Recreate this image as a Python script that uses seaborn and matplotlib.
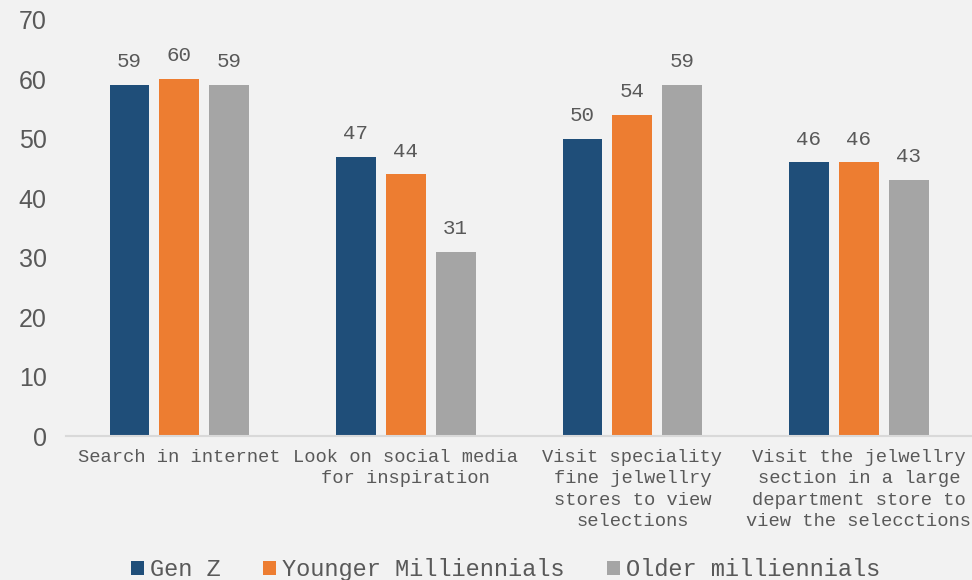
import pandas as pd
import seaborn as sns
import matplotlib.pyplot as plt

# Dados
categories = [
    "Search in internet",
    "Look on social media\nfor inspiration",
    "Visit speciality\nfine jelwellry\nstores to view\nselections",
    "Visit the jelwellry\nsection in a large\ndepartment store to\nview the selecctions",
]
groups = ["Gen Z", "Younger Milliennials", "Older milliennials"]
gen_z = [59, 47, 50, 46]
younger = [60, 44, 54, 46]
older = [59, 31, 59, 43]
colors = ["#1f4e79", "#ed7d31", "#a5a5a5"]

rows = []
for g, vals in zip(groups, [gen_z, younger, older]):
    for c, v in zip(categories, vals):
        rows.append({"category": c, "group": g, "value": v})
df = pd.DataFrame(rows)

sns.set_style("white")
bg = "#f2f2f2"
txt = "#595959"
mono = ["Liberation Mono", "DejaVu Sans Mono"]

fig = plt.figure(figsize=(9.72, 5.8), dpi=100, facecolor=bg)
ax = fig.add_axes([0.068, 0.248, 0.932, 0.718])
ax.set_facecolor(bg)

sns.barplot(data=df, x="category", y="value", hue="group", palette=colors,
            width=0.66, gap=0.2, ax=ax, saturation=1, linewidth=0)

for cont in ax.containers:
    ax.bar_label(cont, padding=10, fontsize=15, color=txt, family=mono)

ax.set_ylim(0, 70)
ax.set_xlim(-0.5, 3.5)
ax.set_yticks(range(0, 71, 10))
ax.set_xlabel("")
ax.set_ylabel("")
ax.tick_params(axis="y", length=0, labelsize=18, labelcolor=txt, pad=14)
ax.tick_params(axis="x", length=0, labelsize=13.5, labelcolor=txt, pad=9)
for lab in ax.get_xticklabels():
    lab.set_family(mono)
    lab.set_linespacing(1.35)
for lab in ax.get_yticklabels():
    lab.set_family(["Liberation Sans", "DejaVu Sans"])

for s in ["top", "right", "left"]:
    ax.spines[s].set_visible(False)
ax.spines["bottom"].set_color("#d9d9d9")
ax.spines["bottom"].set_linewidth(1.5)

handles, labels = ax.get_legend_handles_labels()
ax.legend(handles, labels, loc="lower center", bbox_to_anchor=(0.485, -0.4),
          ncol=3, frameon=False, handlelength=0.55, handleheight=0.55,
          handletextpad=0.25, columnspacing=1.8,
          prop={"family": mono, "size": 17}, labelcolor=txt)

fig.savefig("out.png", dpi=100, facecolor=bg)
